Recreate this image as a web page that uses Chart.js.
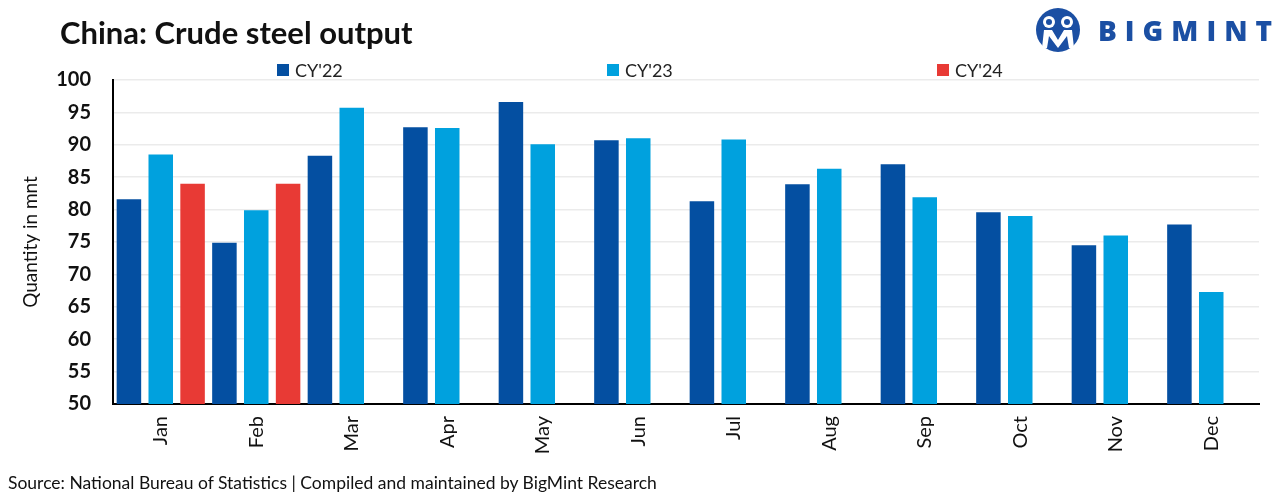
<!DOCTYPE html>
<html>
<head>
<meta charset="utf-8">
<script src="https://cdn.jsdelivr.net/npm/chart.js@4.4.1/dist/chart.umd.min.js"></script>
<style>
  html, body { margin:0; padding:0; background:#fff; }
  #wrap { position:relative; width:1286px; height:497px; overflow:hidden; font-family: Lato, "Open Sans", sans-serif; }
  #chartBox { position:absolute; left:0; top:0; width:1286px; height:497px; }
  #title { position:absolute; left:60px; top:13px; font-size:31px; font-weight:bold; color:#111; white-space:nowrap; }
  .leg { position:absolute; top:59px; font-size:18px; color:#222; white-space:nowrap; display:flex; align-items:center; }
  .leg span.box { display:inline-block; width:12px; height:12px; margin-right:6px; }
  #source { position:absolute; left:8px; top:472px; font-size:17.5px; color:#111; white-space:nowrap; }
  #logo { position:absolute; left:1034px; top:8px; display:flex; align-items:center; }
  #logoText { font-family:"Open Sans", sans-serif; font-weight:800; font-size:28px; color:#1b4fa3; letter-spacing:8px; margin-left:16px; }
</style>
</head>
<body>
<div id="wrap">
  <div id="chartBox"><canvas id="c"></canvas></div>
  <div id="title">China: Crude steel output</div>
  <div id="legend"></div>
  <div id="logo">
    <svg width="48" height="44" viewBox="0 0 48 44">
      <circle cx="24" cy="22" r="22" fill="#1b4fa3"/>
      <circle cx="15" cy="14" r="6" fill="#fff"/>
      <circle cx="15" cy="14" r="3" fill="#1b4fa3"/>
      <circle cx="33" cy="14" r="6" fill="#fff"/>
      <circle cx="33" cy="14" r="3" fill="#1b4fa3"/>
      <path d="M8 40 L10 22 L18 22 L24 32 L30 22 L38 22 L40 40 L35 40 L33 28 L24 40 L15 28 L13 40 Z" fill="#fff"/>
    </svg>
    <div id="logoText">BIGMINT</div>
  </div>
  <div id="source">Source: National Bureau of Statistics | Compiled and maintained by BigMint Research</div>
</div>
<script>
const months = ['Jan','Feb','Mar','Apr','May','Jun','Jul','Aug','Sep','Oct','Nov','Dec'];
const seriesNames = ["CY'22", "CY'23", "CY'24"];
const cy22 = [81.6, 74.9, 88.3, 92.7, 96.6, 90.7, 81.3, 83.9, 87.0, 79.6, 74.5, 77.7];
const cy23 = [88.5, 79.9, 95.7, 92.6, 90.1, 91.0, 90.8, 86.3, 81.9, 79.0, 76.0, 67.3];
const cy24 = [84.0, 84.0, null, null, null, null, null, null, null, null, null, null];
const yTicks = [50, 55, 60, 65, 70, 75, 80, 85, 90, 95, 100];
const colors = ['#044fa1', '#00a1de', '#e83a35'];
const legendX = [277, 607, 937];

const legend = document.getElementById('legend');
seriesNames.forEach((n, i) => {
  const d = document.createElement('div');
  d.className = 'leg';
  d.style.left = legendX[i] + 'px';
  d.innerHTML = '<span class="box" style="background:' + colors[i] + '"></span>' + n;
  legend.appendChild(d);
});

new Chart(document.getElementById('c'), {
  type: 'bar',
  data: {
    labels: months,
    datasets: [
      { label: seriesNames[0], data: cy22, backgroundColor: colors[0] },
      { label: seriesNames[1], data: cy23, backgroundColor: colors[1] },
      { label: seriesNames[2], data: cy24, backgroundColor: colors[2] }
    ]
  },
  options: {
    responsive: true,
    maintainAspectRatio: false,
    animation: false,
    layout: { padding: { left: 0, top: 80, right: 27, bottom: 0 } },
    datasets: { bar: { categoryPercentage: 1.0, barPercentage: 0.77 } },
    plugins: { legend: { display: false }, title: { display: false }, tooltip: { enabled: false } },
    scales: {
      x: {
        grid: { display: false, drawTicks: false },
        border: { display: true, color: '#000', width: 2 },
        ticks: {
          autoSkip: false, minRotation: 90, maxRotation: 90, padding: 12,
          color: '#111', font: { family: 'Lato', size: 20 }
        },
        afterFit: (s) => { s.height = 93; }
      },
      y: {
        min: 50, max: 100,
        afterBuildTicks: (s) => { s.ticks = yTicks.map(v => ({ value: v })); },
        grid: { color: '#ebebeb', lineWidth: 1.5, drawTicks: false },
        border: { display: true, color: '#000', width: 2 },
        ticks: { padding: 22, color: '#111', font: { family: 'Lato', size: 20, weight: 'bold' } },
        title: { display: true, text: 'Quantity in mnt', color: '#111', padding: { top: 19, bottom: 0 }, font: { family: 'Lato', size: 19 } },
        afterFit: (s) => { s.width = 113; }
      }
    }
  }
});
</script>
</body>
</html>
